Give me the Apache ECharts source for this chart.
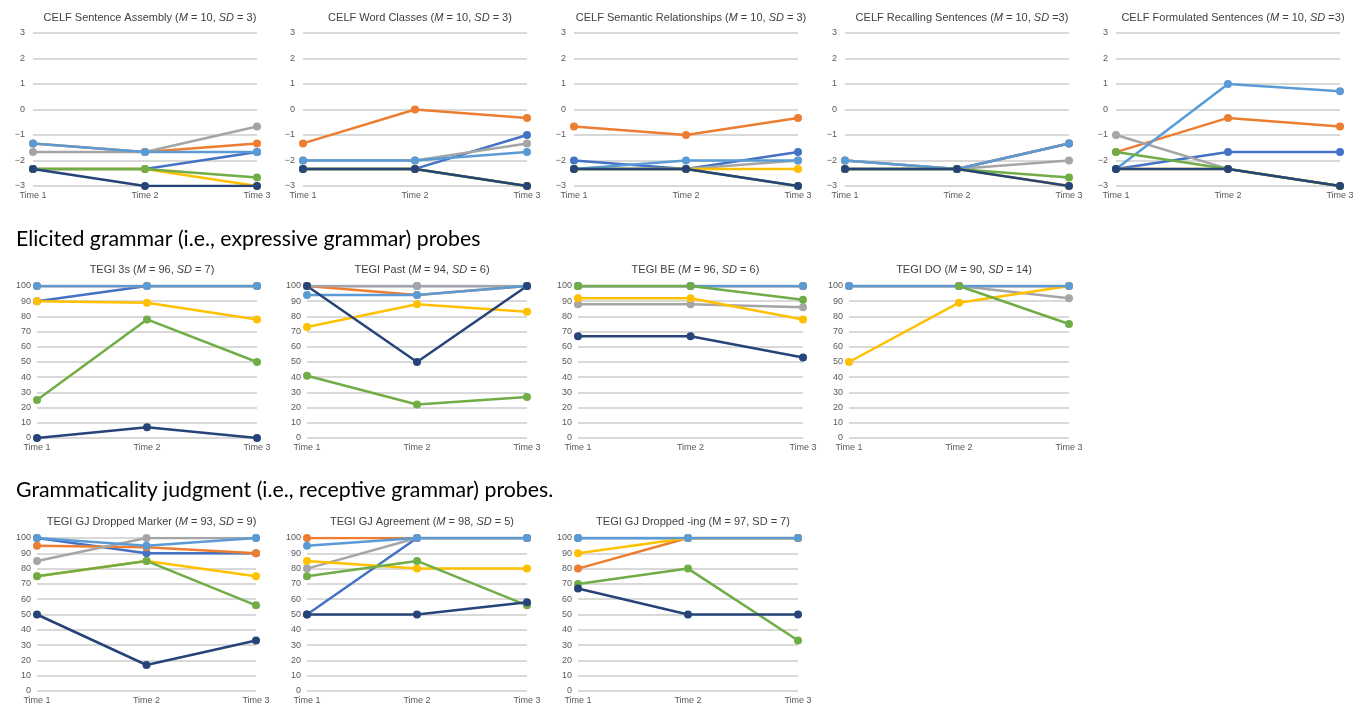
<!DOCTYPE html>
<html>
<head>
<meta charset="utf-8">
<script src="https://cdn.jsdelivr.net/npm/echarts@6/dist/echarts.min.js"></script>
<style>
  html, body { margin: 0; padding: 0; background: #fff; }
  #chart { width: 1363px; height: 713px; }
</style>
</head>
<body>
<div id="chart"></div>
<script>
// x categories
const times = ['Time 1', 'Time 2', 'Time 3']

// one colour per child (Office palette order)
const childColors = ['#4472C4', '#ED7D31', '#A5A5A5', '#FFC000', '#5B9BD5', '#70AD47', '#264478']

// CELF z-scores, one row per child
const sentenceAssembly = [
  [-2.33, -2.33, -1.67],
  [-1.33, -1.67, -1.33],
  [-1.67, -1.67, -0.67],
  [-2.33, -2.33, -3],
  [-1.33, -1.67, -1.67],
  [-2.33, -2.33, -2.67],
  [-2.33, -3, -3]
]
const wordClasses = [
  [-2.33, -2.33, -1],
  [-1.33, 0, -0.33],
  [-2, -2, -1.33],
  [-2.33, -2.33, -3],
  [-2, -2, -1.67],
  [-2.33, -2.33, -3],
  [-2.33, -2.33, -3]
]
const semanticRelationships = [
  [-2, -2.33, -1.67],
  [-0.67, -1, -0.33],
  [-2.33, -2.33, -2],
  [-2.33, -2.33, -2.33],
  [-2.33, -2, -2],
  [-2.33, -2.33, -3],
  [-2.33, -2.33, -3]
]
const recallingSentences = [
  [-2.33, -2.33, -1.33],
  [-2, -2.33, -1.33],
  [-2, -2.33, -2],
  [-2.33, -2.33, -3],
  [-2, -2.33, -1.33],
  [-2.33, -2.33, -2.67],
  [-2.33, -2.33, -3]
]
const formulatedSentences = [
  [-2.33, -1.67, -1.67],
  [-1.67, -0.33, -0.67],
  [-1, -2.33, -3],
  [-2.33, -2.33, -3],
  [-2.33, 1, 0.72],
  [-1.67, -2.33, -3],
  [-2.33, -2.33, -3]
]

// TEGI percent correct, one row per child
const tegi3s = [
  [90, 100, 100],
  [100, 100, 100],
  [100, 100, 100],
  [90, 89, 78],
  [100, 100, 100],
  [25, 78, 50],
  [0, 7, 0]
]
const tegiPast = [
  [100, 100, 100],
  [100, 94, 100],
  [100, 100, 100],
  [73, 88, 83],
  [94, 94, 100],
  [41, 22, 27],
  [100, 50, 100]
]
const tegiBe = [
  [100, 100, 100],
  [100, 100, 100],
  [88, 88, 86],
  [92, 92, 78],
  [100, 100, 100],
  [100, 100, 91],
  [67, 67, 53]
]
const tegiDo = [
  [100, 100, 100],
  [100, 100, 100],
  [100, 100, 92],
  [50, 89, 100],
  [100, 100, 100],
  [null, 100, 75],
  [null, null, null]
]
const gjDroppedMarker = [
  [100, 90, 90],
  [95, 94, 90],
  [85, 100, 100],
  [75, 85, 75],
  [100, 95, 100],
  [75, 85, 56],
  [50, 17, 33]
]
const gjAgreement = [
  [50, 100, 100],
  [100, 100, 100],
  [80, 100, 100],
  [85, 80, 80],
  [95, 100, 100],
  [75, 85, 56],
  [50, 50, 58]
]
const gjDroppedIng = [
  [100, 100, 100],
  [80, 100, 100],
  [100, 100, 100],
  [90, 100, 100],
  [100, 100, 100],
  [70, 80, 33],
  [67, 50, 50]
]

// panel titles: [name, M, SD, spacer after "SD ="]
const panelTitles = [
  ['CELF Sentence Assembly', 10, 3, ' '],
  ['CELF Word Classes', 10, 3, ' '],
  ['CELF Semantic Relationships', 10, 3, ' '],
  ['CELF Recalling Sentences', 10, 3, ''],
  ['CELF Formulated Sentences', 10, 3, ''],
  ['TEGI 3s', 96, 7, ' '],
  ['TEGI Past', 94, 6, ' '],
  ['TEGI BE', 96, 6, ' '],
  ['TEGI DO', 90, 14, ' '],
  ['TEGI GJ Dropped Marker', 93, 9, ' '],
  ['TEGI GJ Agreement', 98, 5, ' '],
  ['TEGI GJ Dropped -ing', 97, 7, ' ']
]
const panelData = [
  sentenceAssembly, wordClasses, semanticRelationships, recallingSentences, formulatedSentences,
  tegi3s, tegiPast, tegiBe, tegiDo,
  gjDroppedMarker, gjAgreement, gjDroppedIng
]
// y ticks
const celfRange = [-3, 3, 1]
const tegiRange = [0, 100, 10]

// panel boxes [left, top, width, height]
const boxes = [
  [33, 33, 224, 153], [303, 33, 224, 153], [574, 33, 224, 153], [845, 33, 224, 153], [1116, 33, 224, 153],
  [37, 286, 220, 152], [307, 286, 220, 152], [578, 286, 225, 152], [849, 286, 220, 152],
  [37, 538, 219, 153], [307, 538, 220, 153], [578, 538, 220, 153]
]

const FONT = '"Liberation Sans", Arial, sans-serif'
const grid = [], xAxis = [], yAxis = [], title = [], series = []

boxes.forEach((b, i) => {
  const isCelf = i < 5
  const range = isCelf ? celfRange : tegiRange
  grid.push({ left: b[0], top: b[1], width: b[2], height: b[3] })
  xAxis.push({
    type: 'category', gridIndex: i, data: times, boundaryGap: false,
    axisLine: { show: false }, axisTick: { show: false },
    axisLabel: { color: '#595959', fontSize: 9, fontFamily: FONT, margin: 5 }
  })
  yAxis.push({
    type: 'value', gridIndex: i, min: range[0], max: range[1], interval: range[2],
    axisLine: { show: false }, axisTick: { show: false },
    axisLabel: {
      color: '#595959', fontSize: 9, fontFamily: FONT, margin: isCelf ? 8 : 6,
      formatter: v => String(v).replace('-', '\u2212')
    },
    splitLine: { lineStyle: { color: '#d9d9d9', width: 2 } }
  })
  const t = panelTitles[i]
  const italic = i !== 11
  title.push({
    left: b[0] + b[2] / 2, top: b[1] - (isCelf ? 26 : 27), textAlign: 'center',
    text: italic
      ? `{n|${t[0]} (}{i|M}{n| = ${t[1]}, }{i|SD}{n| =${t[3]}${t[2]})}`
      : `{n|${t[0]} (M = ${t[1]}, SD = ${t[2]})}`,
    textStyle: {
      fontWeight: 'normal',
      rich: {
        n: { fontSize: 11, color: '#404040', fontFamily: FONT, fontWeight: 'normal' },
        i: { fontSize: 11, color: '#404040', fontFamily: FONT, fontWeight: 'normal', fontStyle: 'italic' }
      }
    }
  })
  panelData[i].forEach((row, k) => {
    series.push({
      type: 'line', xAxisIndex: i, yAxisIndex: i, data: row,
      symbol: 'circle', symbolSize: 8, animation: false,
      itemStyle: { color: childColors[k] },
      lineStyle: { color: childColors[k], width: 2.5 }
    })
  })
})

const chart = echarts.init(document.getElementById('chart'))
chart.setOption({
  animation: false,
  title, grid, xAxis, yAxis, series,
  graphic: [
    { type: 'text', left: 16, top: 229,
      style: { text: 'Elicited grammar (i.e., expressive grammar) probes', fontSize: 21.3, fontFamily: 'Lato, sans-serif', fill: '#000' } },
    { type: 'text', left: 16, top: 480,
      style: { text: 'Grammaticality judgment (i.e., receptive grammar) probes.', fontSize: 21.3, fontFamily: 'Lato, sans-serif', fill: '#000' } }
  ]
})
</script>
</body>
</html>
